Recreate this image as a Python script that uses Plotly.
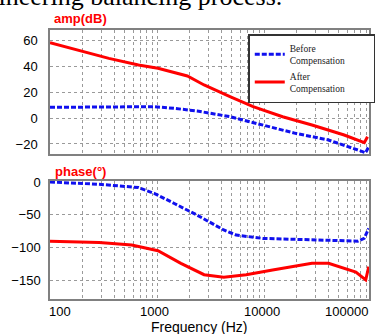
import numpy as np
import plotly.graph_objects as go
from plotly.subplots import make_subplots

# Frequency points (Hz)
freq_amp_after = [100, 188, 355, 670, 1020, 1920, 2750, 4800, 7900, 14900, 28000, 56000, 86300, 92500]
amp_after = [57.9, 51.8, 45.9, 40.8, 38.2, 32.3, 25.4, 16.4, 8.7, 1.0, -5.4, -13.1, -19.0, -14.4]

freq_amp_before = [100, 300, 600, 950, 1450, 2370, 4800, 9700, 19600, 39900, 88800, 95000]
amp_before = [8.2, 8.2, 8.5, 8.7, 7.4, 5.4, 1.0, -5.4, -11.8, -16.9, -26.7, -22.0]

freq_ph_before = [100, 288, 670, 950, 1450, 2370, 4200, 5500, 9700, 28000, 75000, 86000, 95000]
ph_before = [0, -3.5, -8.5, -17.6, -32.7, -50.5, -73, -80.8, -85.8, -88.3, -90, -85.8, -70.6]

freq_ph_after = [100, 288, 580, 1020, 1670, 2750, 4200, 6800, 12000, 28000, 40000, 61000, 72000, 89000, 95000]
ph_after = [-90, -92, -96, -104.5, -123.7, -141, -144.9, -141, -133.8, -123.7, -123.7, -133.8, -137, -149, -128.8]

x_tick_vals = [100, 1000, 10000, 100000]
x_tick_text = ["100", "1000", "10000", "100000"]
amp_ticks = [60, 40, 20, 0, -20]
phase_ticks = [0, -50, -100, -150]

RED = "#ff0000"
BLUE = "#1010ee"
W, H = 376, 334
ML, MR, MT, MB = 50, 1, 30, 35
PW = W - ML - MR
PH = H - MT - MB
XR = [2.0, 4.98]
PAD = "\u2002" * 5 + "\u200c"


def py(px):
    return (H - MB - px) / PH


def pxx(px):
    return (px - ML) / PW


fig = make_subplots(rows=2, cols=1, shared_xaxes=False, vertical_spacing=0.1)

fig.add_trace(go.Scatter(x=freq_amp_before, y=amp_before, mode="lines",
                         name="Before<br>Compensation" + PAD,
                         line=dict(color=BLUE, width=3, dash="5px,2px")), row=1, col=1)
fig.add_trace(go.Scatter(x=freq_amp_after, y=amp_after, mode="lines",
                         name="After<br>Compensation" + PAD,
                         line=dict(color=RED, width=3)), row=1, col=1)
fig.add_trace(go.Scatter(x=freq_ph_before, y=ph_before, mode="lines", showlegend=False,
                         line=dict(color=BLUE, width=3, dash="5px,2px")), row=2, col=1)
fig.add_trace(go.Scatter(x=freq_ph_after, y=ph_after, mode="lines", showlegend=False,
                         line=dict(color=RED, width=3)), row=2, col=1)

grid = dict(showgrid=True, gridcolor="#9a9a9a", griddash="dot", gridwidth=1)
xcommon = dict(type="log", range=XR, tickvals=x_tick_vals, showticklabels=False,
               ticks="", showline=True, linecolor="#808080", linewidth=1.5, mirror=True,
               minor=dict(showgrid=True, gridcolor="#9a9a9a", griddash="dot", gridwidth=1, dtick="D1"),
               zeroline=False, **grid)
fig.update_xaxes(**xcommon)
fig.update_xaxes(domain=[0, 1])

tickfont = dict(family="Liberation Sans, Arial", size=13, color="black")
fig.update_yaxes(row=1, col=1, range=[-27.7, 67.7], tickvals=amp_ticks, ticks="", ticklabelstandoff=8,
                 showline=True, linecolor="#808080", linewidth=1.5, mirror=True, zeroline=False,
                 tickfont=tickfont, domain=[py(154), 1.0], **grid)
fig.update_yaxes(row=2, col=1, range=[-178, 1.5], tickvals=phase_ticks, ticks="", ticklabelstandoff=5,
                 showline=True, linecolor="#808080", linewidth=1.5, mirror=True, zeroline=False,
                 tickfont=tickfont, domain=[0, py(181)], **grid)

annotations = []
shifts = [10, -3, -2, -23]
for v, t, s in zip(x_tick_vals, x_tick_text, shifts):
    lx = min(max(np.log10(v), XR[0]), XR[1])
    annotations.append(dict(x=lx, xref="x2", y=py(311), yref="paper", text=t, showarrow=False,
                            xshift=s, xanchor="center", yanchor="middle", font=tickfont))
annotations.append(dict(x=pxx(202), xref="paper", y=py(326.5), yref="paper", text="Frequency (Hz)",
                        showarrow=False, xanchor="center", yanchor="middle",
                        font=dict(family="Liberation Sans, Arial", size=14, color="black")))
annotations.append(dict(x=pxx(52), xref="paper", y=py(19), yref="paper", text="<b>amp(dB)</b>",
                        showarrow=False, xanchor="left", yanchor="middle",
                        font=dict(family="Liberation Sans, Arial", size=13, color=RED)))
annotations.append(dict(x=pxx(53), xref="paper", y=py(172), yref="paper", text="<b>phase(°)</b>",
                        showarrow=False, xanchor="left", yanchor="middle",
                        font=dict(family="Liberation Sans, Arial", size=13, color=RED)))
annotations.append(dict(x=pxx(288), xref="paper", y=py(13), yref="paper", text="engineering balancing process.",
                        showarrow=False, xanchor="right", yanchor="bottom",
                        font=dict(family="Liberation Serif, Times New Roman", size=26, color="black")))

fig.update_layout(
    width=W, height=H,
    margin=dict(l=ML, r=MR, t=MT, b=MB),
    paper_bgcolor="white", plot_bgcolor="white",
    showlegend=True,
    legend=dict(x=pxx(252), y=py(34), xanchor="left", yanchor="top",
                bgcolor="white", bordercolor="#333333", borderwidth=1.5,
                font=dict(family="Liberation Serif, Times New Roman", size=9.5, color="#222"),
                tracegroupgap=0),
    annotations=annotations,
)

fig.write_html("out.html", config={"displayModeBar": False},
               post_script="document.body.style.margin='0';document.body.style.overflow='hidden';")
